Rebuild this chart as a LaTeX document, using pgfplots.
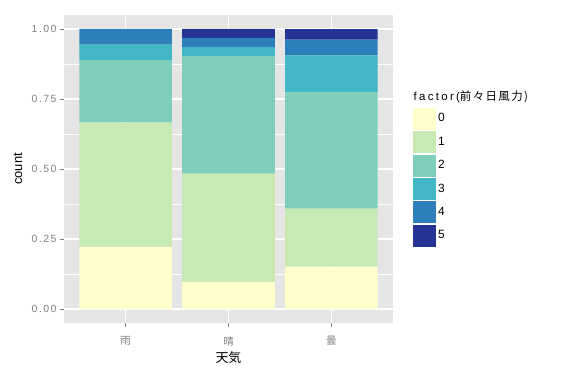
\documentclass[border=0pt]{standalone}
\usepackage{pgfplots}
\pgfplotsset{compat=1.18}
\usepackage{fontspec}
\setmainfont{Liberation Sans}
\newfontfamily\cjk{Noto Sans CJK JP}
\newfontfamily\spaced[LetterSpace=14]{Liberation Sans}
\newfontfamily\titlespaced[LetterSpace=20]{Liberation Sans}
\newfontfamily\cjkspaced[LetterSpace=12]{Noto Sans CJK JP}
\definecolor{c0}{HTML}{FFFFCC}
\definecolor{c1}{HTML}{C7E9B4}
\definecolor{c2}{HTML}{7FCDBB}
\definecolor{c3}{HTML}{41B6C4}
\definecolor{c4}{HTML}{2C7FB8}
\definecolor{c5}{HTML}{253494}
\definecolor{bg}{HTML}{E5E5E5}
\definecolor{tk}{HTML}{7F7F7F}
\pgfplotsset{
  mylegend/.style={legend image code/.code={\fill[##1,draw=white,line width=0.5bp] (0bp,-11.45bp) rectangle (23.4bp,11.45bp);}}
}
\begin{document}
\begin{tikzpicture}
\path[use as bounding box] (0,0) rectangle (566bp,374bp);
\begin{axis}[
  at={(64bp,51bp)}, anchor=south west, scale only axis,
  width=329bp, height=308bp,
  xmin=0.4, xmax=3.6, ymin=-0.05, ymax=1.05,
  enlargelimits=false,
  ybar stacked, bar width=0.9,
  axis background/.style={fill=bg},
  axis line style={draw=none},
  xtick={1,2,3}, xticklabels={\cjk 雨,\cjk 晴,\cjk 曇},
  ytick={0,0.25,0.5,0.75,1},
  yticklabels={0.00,0.25,0.50,0.75,1.00},
  minor ytick={0.125,0.375,0.625,0.875},
  xmajorgrids, ymajorgrids, yminorgrids,
  major grid style={white, line width=1.1bp},
  minor grid style={white, line width=0.5bp},
  tick style={tk, line width=0.6bp},
  major tick length=4bp, minor tick length=0pt, tick align=outside, tick pos=left,
  xticklabel style={font=\fontsize{10.5}{11}\selectfont, text=tk, yshift=-6bp},
  yticklabel style={font=\spaced\fontsize{10.5}{11}\selectfont, text=tk},
  xlabel={\cjk 天気}, ylabel={count},
  label style={font=\fontsize{13}{14}\selectfont},
  xlabel style={at={(axis description cs:0.5,-0.112)}, anchor=center},
  ylabel style={at={(axis description cs:-0.14,0.5)}, anchor=center},
  legend style={name=L, at={(1.0578,0.474)}, anchor=west, draw=none, fill=none,
    inner sep=0pt, row sep=0pt, font=\fontsize{12}{13}\selectfont},
  legend cell align=left,
  /tikz/every even column/.append style={column sep=4bp},
]
\addplot[fill=c0, draw=none, mylegend] coordinates {(1,0.2222) (2,0.0968) (3,0.1509)};
\addlegendentry{0}
\addplot[fill=c1, draw=none, mylegend] coordinates {(1,0.4444) (2,0.3871) (3,0.2075)};
\addlegendentry{1}
\addplot[fill=c2, draw=none, mylegend] coordinates {(1,0.2222) (2,0.4194) (3,0.4151)};
\addlegendentry{2}
\addplot[fill=c3, draw=none, mylegend] coordinates {(1,0.0556) (2,0.0323) (3,0.1321)};
\addlegendentry{3}
\addplot[fill=c4, draw=none, mylegend] coordinates {(1,0.0556) (2,0.0323) (3,0.0566)};
\addlegendentry{4}
\addplot[fill=c5, draw=none, mylegend] coordinates {(1,0.0000) (2,0.0323) (3,0.0377)};
\addlegendentry{5}
\end{axis}
\node[anchor=south west, inner sep=0pt, font=\fontsize{11.5}{12}\selectfont] at ([xshift=1.5bp,yshift=3.5bp]L.north west) {{\titlespaced factor(}{\cjkspaced 前々日風力)}};
\end{tikzpicture}
\end{document}
